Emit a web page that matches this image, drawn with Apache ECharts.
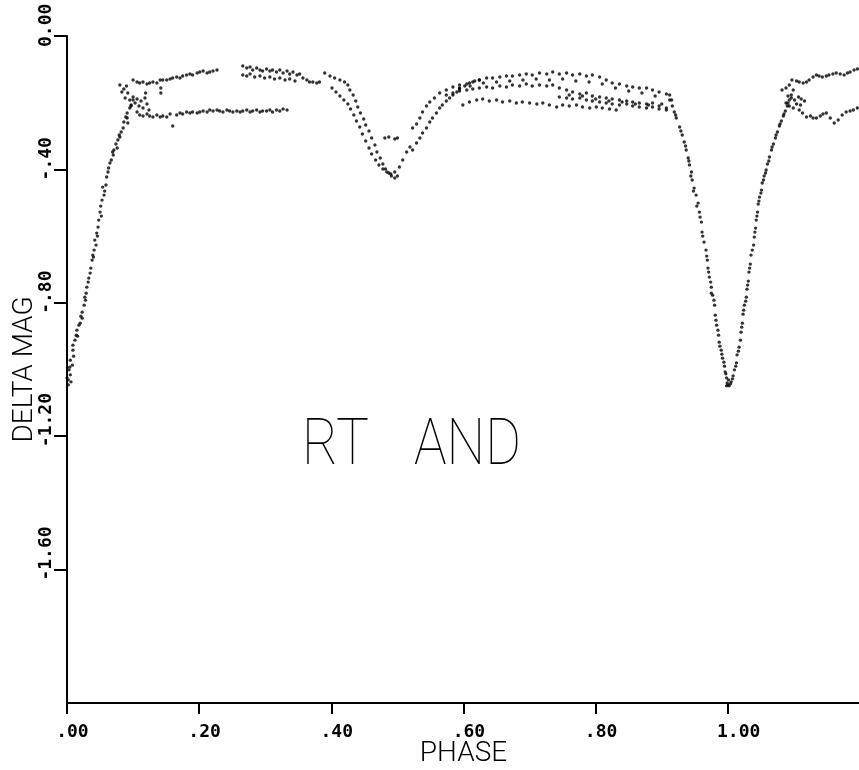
<!DOCTYPE html>
<html><head><meta charset="utf-8">
<script src="https://cdn.jsdelivr.net/npm/echarts@6/dist/echarts.min.js"></script>
<style>html,body{margin:0;padding:0;background:#fff}#c{width:859px;height:770px}</style>
</head><body><div id="c"></div>
<script>
// ---- tick labels ----
const xTickLabels = ['.00', '.20', '.40', '.60', '.80', '1.00'];
const yTickLabels = ['0.00', '-.40', '-.80', '-1.20', '-1.60'];
const chartTitle = 'RT AND';

// ---- data: [phase, delta mag] ----
const egressA = [[0.000,-1.025],[0.002,-1.046],[0.002,-1.031],[0.003,-1.001],[0.005,-1.016],[0.006,-1.037],[0.008,-0.987],[0.009,-0.942],[0.012,-0.912],[0.015,-0.882],[0.020,-0.861],[0.023,-0.828],[0.027,-0.783],[0.030,-0.753],[0.035,-0.711],[0.038,-0.672],[0.041,-0.642],[0.042,-0.612],[0.047,-0.573],[0.050,-0.528],[0.053,-0.492],[0.054,-0.453],[0.060,-0.423],[0.065,-0.381],[0.070,-0.357],[0.076,-0.336],[0.080,-0.303],[0.085,-0.276],[0.091,-0.246],[0.095,-0.216],[0.100,-0.192]];
const egressB = [[0.005,-0.972],[0.009,-0.927],[0.014,-0.897],[0.018,-0.867],[0.023,-0.846],[0.026,-0.807],[0.029,-0.771],[0.032,-0.738],[0.036,-0.696],[0.039,-0.657],[0.044,-0.627],[0.045,-0.591],[0.048,-0.552],[0.051,-0.510],[0.056,-0.477],[0.059,-0.447],[0.062,-0.408],[0.067,-0.372],[0.071,-0.342],[0.077,-0.312],[0.082,-0.288],[0.086,-0.258],[0.091,-0.231],[0.097,-0.210]];
const egressC = [[0.004,-0.993],[0.010,-0.960],[0.016,-0.900],[0.021,-0.840],[0.028,-0.792],[0.033,-0.726],[0.040,-0.663],[0.046,-0.600],[0.052,-0.540],[0.057,-0.465],[0.063,-0.396],[0.069,-0.348],[0.074,-0.324],[0.079,-0.297]];
const kneeEarly = [[0.080,-0.147],[0.083,-0.168],[0.088,-0.186],[0.092,-0.171],[0.095,-0.192],[0.097,-0.207],[0.100,-0.183],[0.103,-0.201],[0.106,-0.189],[0.109,-0.210],[0.112,-0.195],[0.115,-0.216],[0.118,-0.186],[0.121,-0.204],[0.124,-0.222],[0.119,-0.171],[0.142,-0.156],[0.142,-0.171],[0.089,-0.243],[0.092,-0.261],[0.086,-0.159],[0.090,-0.150]];
const upperEarly = [[0.100,-0.132],[0.106,-0.138],[0.110,-0.141],[0.115,-0.138],[0.121,-0.144],[0.125,-0.141],[0.130,-0.138],[0.136,-0.141],[0.141,-0.132],[0.145,-0.132],[0.151,-0.132],[0.156,-0.129],[0.160,-0.126],[0.166,-0.123],[0.171,-0.126],[0.175,-0.120],[0.181,-0.117],[0.186,-0.114],[0.190,-0.117],[0.197,-0.111],[0.201,-0.108],[0.206,-0.105],[0.212,-0.111],[0.216,-0.108],[0.221,-0.105],[0.227,-0.102]];
const upperMidA = [[0.266,-0.090],[0.272,-0.096],[0.277,-0.093],[0.281,-0.102],[0.287,-0.096],[0.292,-0.102],[0.296,-0.105],[0.302,-0.099],[0.307,-0.105],[0.311,-0.102],[0.317,-0.108],[0.322,-0.102],[0.327,-0.111],[0.333,-0.105],[0.337,-0.114],[0.342,-0.108],[0.348,-0.117],[0.352,-0.114]];
const upperMidB = [[0.266,-0.117],[0.272,-0.120],[0.277,-0.114],[0.284,-0.123],[0.292,-0.120],[0.299,-0.126],[0.307,-0.123],[0.314,-0.129],[0.322,-0.126],[0.330,-0.132],[0.337,-0.129],[0.345,-0.135],[0.357,-0.126],[0.363,-0.132],[0.367,-0.138],[0.372,-0.138],[0.378,-0.141],[0.382,-0.138]];
const lowerEarly = [[0.106,-0.228],[0.110,-0.237],[0.115,-0.240],[0.121,-0.234],[0.125,-0.240],[0.130,-0.243],[0.136,-0.237],[0.141,-0.243],[0.145,-0.240],[0.151,-0.243],[0.156,-0.234],[0.160,-0.270],[0.166,-0.237],[0.171,-0.231],[0.175,-0.234],[0.181,-0.228],[0.186,-0.231],[0.190,-0.228],[0.197,-0.231],[0.201,-0.228],[0.206,-0.225],[0.212,-0.228],[0.216,-0.222],[0.221,-0.225],[0.227,-0.222],[0.231,-0.225],[0.236,-0.228],[0.242,-0.222],[0.246,-0.225],[0.251,-0.228],[0.257,-0.225],[0.262,-0.228],[0.266,-0.225],[0.272,-0.222],[0.277,-0.228],[0.281,-0.225],[0.287,-0.222],[0.292,-0.228],[0.296,-0.225],[0.302,-0.225],[0.307,-0.222],[0.311,-0.228],[0.317,-0.222],[0.322,-0.225],[0.327,-0.219],[0.333,-0.222]];
const secDescentA = [[0.390,-0.111],[0.398,-0.120],[0.405,-0.126],[0.413,-0.132],[0.420,-0.138],[0.425,-0.147],[0.428,-0.162],[0.433,-0.177],[0.437,-0.195],[0.440,-0.213],[0.444,-0.231],[0.449,-0.249],[0.452,-0.267],[0.457,-0.285],[0.461,-0.306],[0.466,-0.327],[0.469,-0.348],[0.474,-0.366],[0.478,-0.384],[0.482,-0.399],[0.487,-0.411],[0.491,-0.420],[0.496,-0.426],[0.500,-0.420]];
const secDescentB = [[0.401,-0.156],[0.407,-0.168],[0.413,-0.180],[0.419,-0.192],[0.425,-0.204],[0.429,-0.219],[0.434,-0.237],[0.438,-0.255],[0.443,-0.273],[0.447,-0.294],[0.452,-0.315],[0.457,-0.336],[0.461,-0.354],[0.467,-0.372],[0.472,-0.387],[0.478,-0.399],[0.484,-0.408],[0.490,-0.414],[0.481,-0.306],[0.487,-0.303],[0.496,-0.309],[0.500,-0.306]];
const secRiseA = [[0.496,-0.408],[0.503,-0.393],[0.508,-0.372],[0.514,-0.348],[0.519,-0.333],[0.523,-0.342],[0.529,-0.321],[0.534,-0.306],[0.538,-0.291],[0.544,-0.276],[0.549,-0.258],[0.553,-0.246],[0.559,-0.231],[0.564,-0.216],[0.568,-0.207],[0.574,-0.195],[0.579,-0.186],[0.584,-0.177],[0.590,-0.168],[0.594,-0.159],[0.602,-0.150],[0.609,-0.141],[0.617,-0.135],[0.624,-0.132]];
const secRiseB = [[0.523,-0.276],[0.529,-0.264],[0.534,-0.246],[0.538,-0.228],[0.544,-0.210],[0.549,-0.198],[0.556,-0.186],[0.564,-0.171],[0.574,-0.162],[0.584,-0.153],[0.594,-0.147]];
const upperLate = [[0.594,-0.156],[0.605,-0.144],[0.614,-0.138],[0.624,-0.132],[0.635,-0.126],[0.644,-0.126],[0.655,-0.123],[0.665,-0.120],[0.674,-0.120],[0.685,-0.117],[0.695,-0.114],[0.704,-0.117],[0.715,-0.111],[0.726,-0.114],[0.735,-0.108],[0.745,-0.114],[0.756,-0.111],[0.765,-0.117],[0.776,-0.114],[0.786,-0.120],[0.795,-0.117],[0.806,-0.123],[0.816,-0.132],[0.825,-0.141],[0.836,-0.144],[0.847,-0.150],[0.856,-0.153],[0.866,-0.156],[0.877,-0.156],[0.886,-0.162],[0.896,-0.168],[0.907,-0.174],[0.912,-0.177],[0.915,-0.192]];
const upperLate2 = [[0.610,-0.150],[0.630,-0.141],[0.650,-0.138],[0.670,-0.135],[0.690,-0.132],[0.710,-0.129],[0.730,-0.132],[0.750,-0.129],[0.770,-0.135],[0.790,-0.138],[0.810,-0.144],[0.830,-0.156],[0.850,-0.165],[0.870,-0.171],[0.890,-0.180]];
const midLate = [[0.574,-0.177],[0.584,-0.171],[0.594,-0.165],[0.605,-0.162],[0.614,-0.159],[0.624,-0.156],[0.635,-0.153],[0.644,-0.156],[0.655,-0.150],[0.665,-0.153],[0.674,-0.147],[0.685,-0.150],[0.695,-0.144],[0.704,-0.150],[0.715,-0.147],[0.726,-0.150],[0.735,-0.147],[0.745,-0.156],[0.756,-0.162],[0.765,-0.168],[0.776,-0.174],[0.786,-0.171],[0.795,-0.180],[0.806,-0.183],[0.816,-0.186],[0.825,-0.189],[0.836,-0.192],[0.847,-0.195],[0.856,-0.198],[0.866,-0.201],[0.877,-0.204],[0.886,-0.201],[0.896,-0.210],[0.907,-0.216]];
const midLate2 = [[0.745,-0.183],[0.756,-0.186],[0.765,-0.189],[0.776,-0.186],[0.786,-0.192],[0.795,-0.195],[0.806,-0.198],[0.816,-0.201],[0.825,-0.204],[0.836,-0.207],[0.847,-0.204],[0.856,-0.210],[0.866,-0.213],[0.877,-0.216],[0.886,-0.213],[0.896,-0.219],[0.907,-0.222]];
const midLate3 = [[0.760,-0.177],[0.780,-0.180],[0.800,-0.189],[0.820,-0.195],[0.840,-0.198],[0.860,-0.204],[0.880,-0.207],[0.900,-0.204]];
const lowerLate = [[0.599,-0.207],[0.609,-0.198],[0.620,-0.192],[0.629,-0.189],[0.639,-0.195],[0.650,-0.192],[0.659,-0.198],[0.670,-0.195],[0.680,-0.201],[0.689,-0.198],[0.700,-0.201],[0.711,-0.204],[0.720,-0.201],[0.730,-0.207],[0.741,-0.213],[0.750,-0.207],[0.760,-0.210],[0.771,-0.207],[0.780,-0.213],[0.791,-0.216],[0.801,-0.213],[0.810,-0.216],[0.821,-0.219],[0.831,-0.222]];
const priDescent = [[0.912,-0.192],[0.916,-0.210],[0.919,-0.228],[0.922,-0.246],[0.927,-0.273],[0.931,-0.297],[0.934,-0.318],[0.937,-0.342],[0.940,-0.366],[0.942,-0.387],[0.945,-0.408],[0.946,-0.432],[0.949,-0.456],[0.952,-0.477],[0.955,-0.501],[0.957,-0.528],[0.960,-0.558],[0.961,-0.588],[0.964,-0.618],[0.967,-0.642],[0.969,-0.672],[0.970,-0.696],[0.972,-0.723],[0.975,-0.753],[0.977,-0.777],[0.980,-0.807],[0.981,-0.837],[0.983,-0.867],[0.986,-0.897],[0.987,-0.918],[0.990,-0.942],[0.992,-0.966],[0.995,-0.990],[0.996,-1.007],[0.998,-1.025],[0.999,-1.040],[1.002,-1.049],[0.975,-0.771],[0.985,-0.882],[0.994,-0.978],[1.001,-1.031],[1.004,-1.043],[0.998,-1.049]];
const priDescentB = [[0.921,-0.237],[0.929,-0.285],[0.936,-0.330],[0.941,-0.375],[0.944,-0.420],[0.948,-0.465],[0.953,-0.510],[0.958,-0.543],[0.962,-0.600],[0.968,-0.660],[0.971,-0.708],[0.974,-0.738],[0.979,-0.792],[0.982,-0.852],[0.988,-0.930],[0.991,-0.954],[0.997,-1.013],[1.000,-1.046]];
const priRise = [[1.005,-1.037],[1.008,-1.019],[1.010,-1.001],[1.013,-0.980],[1.014,-0.956],[1.017,-0.933],[1.019,-0.912],[1.020,-0.888],[1.022,-0.861],[1.023,-0.834],[1.025,-0.807],[1.028,-0.783],[1.029,-0.759],[1.031,-0.735],[1.032,-0.708],[1.034,-0.684],[1.035,-0.657],[1.039,-0.627],[1.040,-0.603],[1.042,-0.576],[1.043,-0.552],[1.045,-0.528],[1.046,-0.504],[1.048,-0.483],[1.051,-0.462],[1.052,-0.441],[1.055,-0.420],[1.058,-0.402],[1.060,-0.384],[1.063,-0.363],[1.066,-0.342],[1.069,-0.324],[1.072,-0.306],[1.075,-0.288],[1.078,-0.270],[1.081,-0.255],[1.084,-0.240],[1.087,-0.225],[1.090,-0.210],[1.093,-0.192],[1.096,-0.177],[1.099,-0.162]];
const priRiseB = [[1.007,-1.028],[1.012,-0.990],[1.016,-0.945],[1.021,-0.873],[1.024,-0.822],[1.027,-0.795],[1.030,-0.747],[1.033,-0.696],[1.037,-0.642],[1.041,-0.588],[1.044,-0.540],[1.047,-0.495],[1.050,-0.471],[1.054,-0.432],[1.057,-0.411],[1.062,-0.375],[1.067,-0.333],[1.073,-0.297],[1.079,-0.264],[1.085,-0.234],[1.091,-0.201]];
const upperEnd = [[1.082,-0.162],[1.088,-0.156],[1.093,-0.147],[1.097,-0.132],[1.104,-0.135],[1.108,-0.138],[1.114,-0.141],[1.119,-0.138],[1.123,-0.132],[1.129,-0.123],[1.134,-0.117],[1.138,-0.120],[1.143,-0.123],[1.149,-0.120],[1.153,-0.117],[1.159,-0.114],[1.164,-0.111],[1.170,-0.114],[1.176,-0.117],[1.181,-0.111],[1.185,-0.108],[1.191,-0.102],[1.196,-0.099]];
const lowerEnd = [[1.088,-0.201],[1.093,-0.210],[1.099,-0.216],[1.104,-0.204],[1.108,-0.222],[1.113,-0.231],[1.119,-0.243],[1.125,-0.240],[1.129,-0.246],[1.134,-0.246],[1.140,-0.240],[1.144,-0.234],[1.149,-0.231],[1.155,-0.246],[1.161,-0.261],[1.167,-0.252],[1.173,-0.237],[1.179,-0.228],[1.185,-0.225],[1.190,-0.222],[1.196,-0.216]];
const kneeEnd = [[1.091,-0.180],[1.096,-0.186],[1.101,-0.192],[1.107,-0.183],[1.111,-0.189],[1.116,-0.195],[1.110,-0.207]];

const segments = [egressA, egressB, egressC, kneeEarly, upperEarly, upperMidA, upperMidB, lowerEarly,
  secDescentA, secDescentB, secRiseA, secRiseB, upperLate, upperLate2, midLate, midLate2, midLate3, lowerLate,
  priDescent, priDescentB, priRise, priRiseB, upperEnd, lowerEnd, kneeEnd];

const chart = echarts.init(document.getElementById('c'), null, {renderer: 'canvas'});
const labelFont = {fontFamily: 'DejaVu Sans Mono', fontWeight: 'bold', fontSize: 18, color: '#000'};
const nameFont = {fontFamily: 'Roboto', fontWeight: 300, fontSize: 28, color: '#000'};
const titleStyle = {fontFamily: 'Roboto', fontWeight: 100, fontSize: 65, fill: '#000', verticalAlign: 'middle', align: 'left'};
const titleWords = chartTitle.split(' ');

chart.setOption({
  animation: false,
  backgroundColor: '#fff',
  grid: {left: 67, right: -1, top: 36, bottom: 67, containLabel: false, outerBoundsMode: 'none'},
  xAxis: {
    type: 'value', min: 0, max: 1.2, interval: 0.2,
    axisLine: {onZero: false, lineStyle: {color: '#000', width: 2}},
    axisTick: {length: 11, lineStyle: {color: '#000', width: 2}},
    splitLine: {show: false},
    axisLabel: Object.assign({
      margin: 20, showMaxLabel: false, align: 'center',
      formatter: v => {
        const s = xTickLabels[Math.round(v / 0.2)] || '';
        return ' '.repeat(Math.max(0, s.length - 2)) + s;
      }
    }, labelFont),
    name: 'PHASE', nameLocation: 'middle', nameGap: 37, nameMoveOverlap: false,
    nameTextStyle: nameFont
  },
  yAxis: {
    type: 'value', min: -2, max: 0, interval: 0.4,
    axisLine: {onZero: false, lineStyle: {color: '#000', width: 2}},
    axisTick: {length: 13, lineStyle: {color: '#000', width: 2}},
    splitLine: {show: false},
    axisLabel: Object.assign({
      rotate: 90, margin: 12, showMinLabel: false, align: 'left', verticalAlign: 'bottom',
      padding: [0, 0, 0, -11],
      formatter: v => yTickLabels[Math.round(-v / 0.4)] || ''
    }, labelFont),
    name: 'DELTA MAG', nameLocation: 'middle', nameGap: 28, nameRotate: 90, nameMoveOverlap: false,
    nameTextStyle: nameFont
  },
  graphic: [
    {type: 'text', x: 302, y: 448, scaleX: 0.85, style: Object.assign({text: titleWords[0]}, titleStyle)},
    {type: 'text', x: 414, y: 448, scaleX: 0.84, style: Object.assign({text: titleWords[1]}, titleStyle)}
  ],
  series: segments.map(d => ({
    type: 'scatter', data: d, symbol: 'circle', symbolSize: 3.4,
    itemStyle: {color: '#000'}, silent: true
  }))
});
</script>
</body></html>
